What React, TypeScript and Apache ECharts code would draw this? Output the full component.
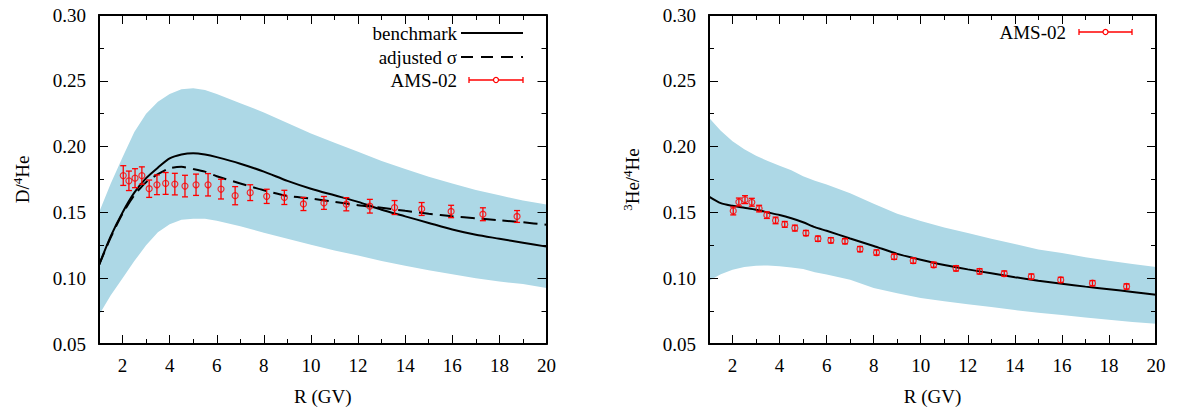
import React, { useEffect, useRef } from "react";
import * as echarts from "echarts";

// ---------- data ----------
const modelR = [1, 1.5, 2, 2.5, 3, 3.5, 4, 4.5, 5, 5.5, 6, 7, 8, 9, 10, 11, 12, 13, 14, 15, 16, 17, 18, 19, 20];

// D/4He panel
const dBenchmark = [0.110, 0.132, 0.150, 0.165, 0.176, 0.184, 0.191, 0.194, 0.195, 0.194, 0.192, 0.187, 0.181, 0.174, 0.168, 0.163, 0.158, 0.152, 0.147, 0.142, 0.137, 0.133, 0.130, 0.127, 0.124];
const dAdjusted = [0.110, 0.131, 0.149, 0.163, 0.173, 0.179, 0.1835, 0.1846, 0.183, 0.181, 0.1775, 0.172, 0.1668, 0.1625, 0.1605, 0.158, 0.1555, 0.1535, 0.1512, 0.149, 0.147, 0.1455, 0.144, 0.1425, 0.1406];
const dBandUpper = [0.150, 0.172, 0.192, 0.211, 0.225, 0.234, 0.240, 0.2435, 0.2443, 0.243, 0.240, 0.233, 0.226, 0.218, 0.210, 0.203, 0.196, 0.189, 0.183, 0.177, 0.172, 0.167, 0.163, 0.159, 0.156];
const dBandLower = [0.072, 0.087, 0.100, 0.113, 0.125, 0.135, 0.141, 0.1445, 0.1452, 0.1451, 0.1437, 0.1395, 0.1345, 0.130, 0.1255, 0.121, 0.1173, 0.113, 0.1095, 0.106, 0.103, 0.100, 0.0975, 0.0955, 0.0925];

// 3He/4He panel
const hBenchmark = [0.162, 0.157, 0.155, 0.1535, 0.152, 0.150, 0.148, 0.1455, 0.1425, 0.1388, 0.136, 0.1302, 0.1245, 0.1185, 0.114, 0.110, 0.1067, 0.1037, 0.1008, 0.0981, 0.0958, 0.0936, 0.0916, 0.0896, 0.0875];
const hBandUpper = [0.222, 0.212, 0.204, 0.198, 0.193, 0.189, 0.1855, 0.182, 0.1775, 0.174, 0.1712, 0.1645, 0.1565, 0.149, 0.1435, 0.1385, 0.1343, 0.130, 0.126, 0.1218, 0.1192, 0.116, 0.1132, 0.1108, 0.1085];
const hBandLower = [0.098, 0.103, 0.1065, 0.1085, 0.1095, 0.1097, 0.109, 0.1082, 0.107, 0.1045, 0.1028, 0.0988, 0.0925, 0.0885, 0.085, 0.0825, 0.0803, 0.0782, 0.0758, 0.0737, 0.072, 0.0702, 0.0685, 0.0668, 0.0653];

// AMS-02 measurements
const amsR = [2.03, 2.27, 2.53, 2.82, 3.13, 3.46, 3.83, 4.22, 4.65, 5.12, 5.63, 6.18, 6.78, 7.42, 8.12, 8.87, 9.68, 10.55, 11.5, 12.5, 13.55, 14.7, 15.95, 17.3, 18.75];
const amsD = [0.178, 0.174, 0.176, 0.178, 0.168, 0.171, 0.172, 0.1715, 0.170, 0.171, 0.171, 0.1677, 0.1627, 0.165, 0.1622, 0.1614, 0.1564, 0.1572, 0.1562, 0.1547, 0.1537, 0.1526, 0.1507, 0.1486, 0.1469];
const amsDErr = [0.0075, 0.0074, 0.0072, 0.0066, 0.0066, 0.0075, 0.0083, 0.0082, 0.0082, 0.0081, 0.0085, 0.0075, 0.0069, 0.006, 0.0054, 0.0054, 0.005, 0.0049, 0.005, 0.0052, 0.0053, 0.0049, 0.0047, 0.0049, 0.0045];
const amsHe3 = [0.1511, 0.1579, 0.1597, 0.1577, 0.1529, 0.1479, 0.1439, 0.1409, 0.1381, 0.1343, 0.1300, 0.1288, 0.1281, 0.1221, 0.1195, 0.1163, 0.1133, 0.1102, 0.1075, 0.1052, 0.1035, 0.1012, 0.0987, 0.0962, 0.0937];
const amsHe3Err = [0.003, 0.003, 0.003, 0.003, 0.0025, 0.0025, 0.0025, 0.0022, 0.0022, 0.002, 0.002, 0.002, 0.002, 0.002, 0.002, 0.002, 0.002, 0.002, 0.002, 0.002, 0.002, 0.002, 0.002, 0.002, 0.002];

// axis ticks
const xMajorTicks = [2, 4, 6, 8, 10, 12, 14, 16, 18, 20];
const xMinorTicks = [3, 5, 7, 9, 11, 13, 15, 17, 19];

// ---------- helpers ----------
const FONT = "'Liberation Serif', 'Times New Roman', serif";
const RED = "#ff0000";
const BAND = "#add8e6";

const pairs = (xs: number[], ys: number[]) => xs.map((x, i) => [x, ys[i]]);
const bandData = (xs: number[], up: number[], lo: number[]) => xs.map((x, i) => [x, lo[i], up[i]]);
const errData = (xs: number[], ys: number[], es: number[]) => xs.map((x, i) => [x, ys[i] - es[i], ys[i] + es[i]]);

function xAxes(gridIndex: number, name: string) {
  const base = {
    type: "value",
    gridIndex,
    min: 1,
    max: 20,
    splitLine: { show: false },
    z: 10,
  };
  return [
    {
      ...base,
      position: "bottom",
      axisLine: { show: true, lineStyle: { color: "#000", width: 2 } },
      axisTick: { show: true, inside: true, length: 9, customValues: xMajorTicks, lineStyle: { color: "#000", width: 1 } },
      axisLabel: { show: true, customValues: xMajorTicks, margin: 12, fontSize: 19, fontFamily: FONT, color: "#000" },
      name,
      nameLocation: "middle",
      nameGap: 43,
      nameTextStyle: { fontSize: 19, fontFamily: FONT, color: "#000" },
    },
    {
      ...base,
      position: "bottom",
      axisLine: { show: false },
      axisTick: { show: true, inside: true, length: 5, customValues: xMinorTicks, lineStyle: { color: "#000", width: 1 } },
      axisLabel: { show: false },
    },
    {
      ...base,
      position: "top",
      axisLine: { show: true, lineStyle: { color: "#000", width: 2 } },
      axisTick: { show: true, inside: true, length: 9, customValues: xMajorTicks, lineStyle: { color: "#000", width: 1 } },
      axisLabel: { show: false },
    },
    {
      ...base,
      position: "top",
      axisLine: { show: false },
      axisTick: { show: true, inside: true, length: 5, customValues: xMinorTicks, lineStyle: { color: "#000", width: 1 } },
      axisLabel: { show: false },
    },
  ];
}

function yAxes(gridIndex: number, name: string) {
  const base = {
    type: "value",
    gridIndex,
    min: 0.05,
    max: 0.3,
    interval: 0.05,
    splitLine: { show: false },
    minorSplitLine: { show: false },
    z: 10,
    axisLine: { show: true, lineStyle: { color: "#000", width: 2 } },
    axisTick: { show: true, inside: true, length: 9, lineStyle: { color: "#000", width: 1 } },
    minorTick: { show: true, splitNumber: 2, length: 5, lineStyle: { color: "#000", width: 1 } },
  };
  return [
    {
      ...base,
      position: "left",
      axisLabel: {
        show: true,
        margin: 13,
        fontSize: 19,
        fontFamily: FONT,
        color: "#000",
        formatter: (v: number) => v.toFixed(2),
      },
      name,
      nameLocation: "middle",
      nameGap: 66,
      nameTextStyle: {
        fontSize: 19,
        fontFamily: FONT,
        color: "#000",
        rich: {
          n: { fontSize: 19, fontFamily: FONT, color: "#000", lineHeight: 22 },
          s: { fontSize: 13, fontFamily: FONT, color: "#000", verticalAlign: "top", lineHeight: 13 },
        },
      },
    },
    {
      ...base,
      position: "right",
      axisLabel: { show: false },
    },
  ];
}

function panelSeries(
  xIdx: number,
  yIdx: number,
  upper: number[],
  lower: number[],
  lines: { data: number[]; dashed: boolean; name: string }[],
  ys: number[],
  es: number[],
  cap: number
) {
  const common = { xAxisIndex: xIdx, yAxisIndex: yIdx };
  const band = bandData(modelR, upper, lower);
  const out: any[] = [
    {
      ...common,
      type: "custom",
      name: "band",
      data: band,
      encode: { x: 0, y: [1, 2] },
      silent: true,
      clip: true,
      z: 1,
      renderItem: (params: any, api: any) => {
        if (params.dataIndex !== 0) return null;
        const top = band.map((d) => api.coord([d[0], d[2]]));
        const bottom = band.map((d) => api.coord([d[0], d[1]])).reverse();
        return {
          type: "polygon",
          shape: { points: [...top, ...bottom] },
          style: { fill: BAND, stroke: null },
        };
      },
    },
  ];
  lines.forEach((l) => {
    out.push({
      ...common,
      type: "line",
      name: l.name,
      data: pairs(modelR, l.data),
      symbol: "none",
      smooth: 0.25,
      lineStyle: { color: "#000", width: 2, type: l.dashed ? [14, 7] : "solid" },
      z: 3,
    });
  });
  out.push({
    ...common,
    type: "custom",
    name: "AMS-02 err",
    data: errData(amsR, ys, es),
    encode: { x: 0, y: [1, 2] },
    z: 4,
    renderItem: (params: any, api: any) => {
      const x = api.value(0);
      const p1 = api.coord([x, api.value(1)]);
      const p2 = api.coord([x, api.value(2)]);
      const style = { stroke: RED, lineWidth: 1.3, fill: null };
      return {
        type: "group",
        children: [
          { type: "line", shape: { x1: p1[0], y1: p1[1], x2: p2[0], y2: p2[1] }, style },
          { type: "line", shape: { x1: p1[0] - cap, y1: p1[1], x2: p1[0] + cap, y2: p1[1] }, style },
          { type: "line", shape: { x1: p2[0] - cap, y1: p2[1], x2: p2[0] + cap, y2: p2[1] }, style },
        ],
      };
    },
  });
  out.push({
    ...common,
    type: "scatter",
    name: "AMS-02",
    data: pairs(amsR, ys),
    symbol: "circle",
    symbolSize: 6,
    itemStyle: { color: "rgba(0,0,0,0)", borderColor: RED, borderWidth: 1.2 },
    z: 5,
  });
  return out;
}

function legendRow(textRight: number, y: number, label: string, sample: any[]) {
  return [
    {
      type: "text",
      x: textRight,
      y,
      style: { text: label, font: `19px ${FONT}`, fill: "#000", align: "right", verticalAlign: "middle" },
      z: 20,
    },
    ...sample,
  ];
}

function errorbarSample(x1: number, x2: number, y: number) {
  const s = { stroke: RED, lineWidth: 1.3 };
  return [
    { type: "line", shape: { x1, y1: y, x2, y2: y }, style: s, z: 20 },
    { type: "line", shape: { x1, y1: y - 3, x2: x1, y2: y + 3 }, style: s, z: 20 },
    { type: "line", shape: { x1: x2, y1: y - 3, x2, y2: y + 3 }, style: s, z: 20 },
    { type: "circle", shape: { cx: (x1 + x2) / 2, cy: y, r: 2.5 }, style: { stroke: RED, fill: "#fff", lineWidth: 1.2 }, z: 21 },
  ];
}

export default function App() {
  const ref = useRef<HTMLDivElement>(null);

  useEffect(() => {
    if (!ref.current) return;
    const chart = echarts.init(ref.current, undefined, { renderer: "svg" });
    const option: any = {
      animation: false,
      backgroundColor: "#fff",
      textStyle: { fontFamily: FONT },
      grid: [
        { left: 99, top: 15, width: 447.5, height: 332, containLabel: false },
        { left: 709, top: 15, width: 447, height: 332, containLabel: false },
      ],
      xAxis: [...xAxes(0, "R (GV)"), ...xAxes(1, "R (GV)")],
      yAxis: [...yAxes(0, "{n|D/}{s|4}{n|He}"), ...yAxes(1, "{s|3}{n|He/}{s|4}{n|He}")],
      series: [
        ...panelSeries(
          0,
          0,
          dBandUpper,
          dBandLower,
          [
            { data: dBenchmark, dashed: false, name: "benchmark" },
            { data: dAdjusted, dashed: true, name: "adjusted σ" },
          ],
          amsD,
          amsDErr,
          3
        ),
        ...panelSeries(
          4,
          2,
          hBandUpper,
          hBandLower,
          [{ data: hBenchmark, dashed: false, name: "benchmark 3He" }],
          amsHe3,
          amsHe3Err,
          3
        ),
      ],
      graphic: [
        ...legendRow(457, 33, "benchmark", [
          { type: "line", shape: { x1: 461, y1: 33, x2: 523, y2: 33 }, style: { stroke: "#000", lineWidth: 2 }, z: 20 },
        ]),
        ...legendRow(457, 57, "adjusted σ", [
          { type: "line", shape: { x1: 461, y1: 57, x2: 523, y2: 57 }, style: { stroke: "#000", lineWidth: 2, lineDash: [12, 8] }, z: 20 },
        ]),
        ...legendRow(457, 80, "AMS-02", errorbarSample(469, 523, 80)),
        ...legendRow(1066, 32, "AMS-02", errorbarSample(1079, 1132, 32)),
      ],
    };
    chart.setOption(option);
    return () => chart.dispose();
  }, []);

  return (
    <div
      ref={ref}
      style={{ position: "absolute", left: 0, top: 0, width: 1177, height: 411, background: "#fff" }}
    />
  );
}
